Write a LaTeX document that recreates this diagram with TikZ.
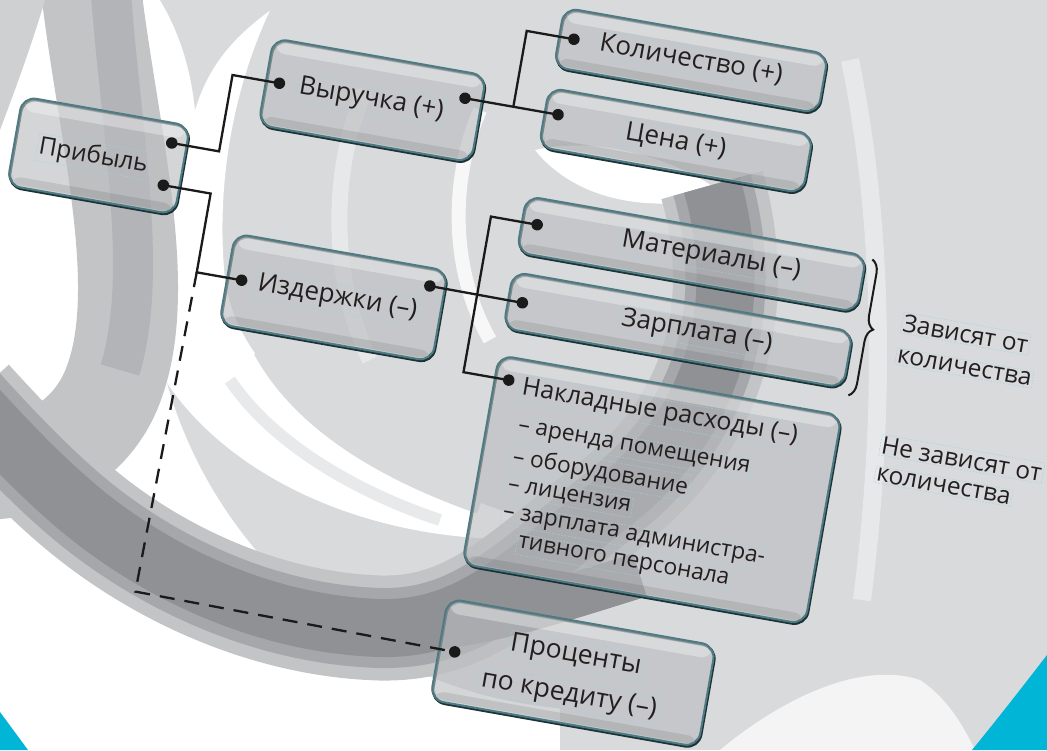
\documentclass[tikz,border=0pt]{standalone}
\usepackage{fontspec}
\setmainfont{Open Sans}
\usetikzlibrary{shadows,decorations.pathreplacing}
\definecolor{bgA}{HTML}{D9DADC}
\definecolor{bgB}{HTML}{C3C4C6}
\definecolor{bgC}{HTML}{A6A7AA}
\definecolor{bgD}{HTML}{909194}
\definecolor{bgE}{HTML}{E7E8E9}
\definecolor{cyanc}{HTML}{00B5D6}
\definecolor{edgeT}{HTML}{4E7B83}
\definecolor{edgeD}{HTML}{1C3236}
\definecolor{boxf}{HTML}{BBBCBF}
\definecolor{ink}{HTML}{231F20}
\definecolor{guide}{HTML}{9AD6E2}
\definecolor{wirec}{HTML}{1A1A1A}
\begin{document}
\begin{tikzpicture}[x=1pt,y=-1pt,
  gbox/.style={rectangle, rounded corners=14pt, draw=edgeT, line width=2pt,
    fill=boxf, fill opacity=0.62, text opacity=1, inner sep=0pt,
    general shadow={shadow xshift=0.8pt, shadow yshift=-1.6pt, draw=edgeD, line width=2.6pt, fill=none}},
  gloss/.style={fill=white, fill opacity=0.32, rounded corners=9pt},
  shade/.style={fill=black, fill opacity=0.09, rounded corners=9pt},
  lbl/.style={font=\fontsize{24.5}{28}\selectfont, text=ink, inner sep=1.5pt,
    draw=guide, line width=0.45pt, dash pattern=on 1.6pt off 1.6pt},
  lmid/.style={lbl, font=\fontsize{26}{30}\selectfont},
  ltit/.style={lbl, font=\fontsize{25}{29}\selectfont},
  lsm/.style={lbl, font=\fontsize{22.8}{27}\selectfont},
  lbig/.style={lbl, font=\fontsize{26.5}{30}\selectfont},
  dot/.style={circle, fill=wirec, inner sep=0pt, minimum size=11.5pt},
  wire/.style={draw=wirec, line width=2.3pt},
  dashwire/.style={wire, dash pattern=on 15pt off 10pt},
  brc/.style={draw=wirec, line width=2pt, decorate, decoration={brace, amplitude=13pt}}
]
\useasboundingbox (0,0) rectangle (1047,750);
% ---------------- background ----------------
\begin{scope}
\clip (0,0) rectangle (1047,750);
\fill[white] (0,0) rectangle (1047,750);
\fill[bgA] (600,260) circle[radius=450];
\fill[bgA] (560,0) rectangle (1047,750);
\fill[white!70!bgA] (720,750) .. controls (780,700) and (860,660) .. (920,680) .. controls (950,700) and (965,730) .. (975,750) -- cycle;
% white inner swirl
\fill[white] (150,0) -- (275,0) .. controls (235,80) and (215,180) .. (225,280) .. controls (240,390) and (380,480) .. (580,535) .. controls (380,560) and (190,470) .. (140,330) -- cycle;
\draw[bgA, line width=18] (262,350) .. controls (300,420) and (380,470) .. (480,505);
\draw[bgA!60!white, line width=12] (230,380) .. controls (270,440) and (350,490) .. (440,520);
% white arcs in grey
\draw[bgE, line width=16] (365,90) .. controls (330,170) and (330,280) .. (370,360);
\draw[white, line width=14, opacity=.8] (480,110) .. controls (450,180) and (450,270) .. (490,340);
\draw[bgE, line width=18] (850,60) .. controls (885,230) and (885,420) .. (862,600);
\fill[white] (535,150) .. controls (600,135) and (680,160) .. (725,195) .. controls (650,215) and (575,200) .. cycle;
% top-left grey band
\draw[bgB, line width=100] (90,-20) .. controls (105,120) and (150,280) .. (115,380) .. controls (95,440) and (40,470) .. (-20,470);
\draw[bgC!55!bgB, line width=40] (110,-20) .. controls (120,130) and (150,270) .. (120,370);
\fill[bgB!80!white] (0,0) -- (45,0) .. controls (30,50) and (15,90) .. (0,130) -- cycle;
\fill[bgA] (160,0) -- (285,0) .. controls (240,30) and (210,60) .. (195,110) .. controls (190,60) and (175,25) .. cycle;
% dark band
\draw[bgB, line width=105, postaction={draw=bgC, line width=80}, postaction={draw=bgD, line width=58}]
  (712,185) .. controls (745,300) and (720,420) .. (610,505) .. controls (520,575) and (470,630) .. (380,628)
  .. controls (280,625) and (180,585) .. (100,525) .. controls (60,495) and (20,455) .. (-30,400);
\draw[bgD, line width=45] (430,628) .. controls (500,620) and (560,600) .. (640,575);
% cyan corners
\fill[cyanc] (1047,655) .. controls (1020,690) and (995,722) .. (972,750) -- (1047,750) -- cycle;
\fill[cyanc] (0,712) -- (28,750) -- (0,750) -- cycle;
\end{scope}
% ---------------- diagram (rotated frame) ----------------
\begin{scope}[rotate=-10, transform shape]
\node[gbox, minimum width=170pt, minimum height=90pt] (bPrib) at (124,136) {};
\node[gbox, minimum width=216pt, minimum height=88pt] (bVyr) at (384,34) {};
\node[gbox, minimum width=216pt, minimum height=92pt] (bIzd) at (380,235) {};
\node[gbox, minimum width=268pt, minimum height=60pt] (bKol) at (691,-60.5) {};
\node[gbox, minimum width=268pt, minimum height=60pt] (bCena) at (690,21) {};
\node[gbox, minimum width=345pt, minimum height=57pt] (bMat) at (725,130) {};
\node[gbox, minimum width=345pt, minimum height=57pt] (bZarp) at (725,207) {};
\node[gbox, minimum width=348pt, minimum height=212pt] (bNakl) at (727,369) {};
\node[gbox, minimum width=272pt, minimum height=103pt] (bProc) at (681,563) {};
% glossy top band and darker bottom inside each box
\foreach \n in {bPrib,bVyr,bIzd,bKol,bCena,bMat,bZarp,bNakl,bProc}{
  \fill[gloss] ([shift={(5,3)}]\n.north west) -- ([shift={(-5,3)}]\n.north east)
    -- ([shift={(-5,15)}]\n.north east) -- ([shift={(5,15)}]\n.north west) -- cycle;
  \fill[shade] ([shift={(5,-11)}]\n.south west) -- ([shift={(-4,-11)}]\n.south east)
    -- ([shift={(-4,-3)}]\n.south east) -- ([shift={(5,-3)}]\n.south west) -- cycle;
}
% elbows
\coordinate (eA) at (242,111);
\coordinate (eB) at (242,33.5);
\coordinate (eC) at (241,154);
\coordinate (eD) at (241,234);
\coordinate (eE) at (236,559);
\coordinate (eF) at (524,16);
\coordinate (eG) at (524,-61);
\coordinate (eH) at (521,128);
\coordinate (eI) at (521,286);
% dots
\node[dot] (dP1) at (194,111) {};
\node[dot] (dP2) at (193,154) {};
\node[dot] (dV1) at (289.6,33.5) {};
\node[dot] (dV2) at (475,16) {};
\node[dot] (dI1) at (286.6,234) {};
\node[dot] (dI2) at (473,207) {};
\node[dot] (dK) at (572,-61) {};
\node[dot] (dC) at (569.5,16) {};
\node[dot] (dM) at (568,128) {};
\node[dot] (dZ) at (567,207.5) {};
\node[dot] (dN) at (567,286) {};
\node[dot] (dPr) at (561,563) {};
% connectors
\draw[wire] (dP1.center) -- (eA) -- (eB) -- (dV1.center);
\draw[wire] (dP2.center) -- (eC) -- (eD) -- (dI1.center);
\draw[dashwire] (eD) -- (eE) -- (dPr.center);
\draw[wire] (dV2.center) -- (dC.center);
\draw[wire] (eF) -- (eG) -- (dK.center);
\draw[wire] (dI2.center) -- (dZ.center);
\draw[wire] (dM.center) -- (eH) -- (eI) -- (dN.center);
% brace
\coordinate (brT) at (904,104);
\coordinate (brB) at (904,242);
\draw[brc] (brT) -- (brB);
% texts
\node[lbl] (tPrib) at (119,138) {Прибыль};
\node[lmid] (tVyr) at (383,34) {Выручка (+)};
\node[lmid] (tIzd) at (384,235) {Издержки (–)};
\node[lmid] (tKol) at (691,-61) {Количество (+)};
\node[lmid] (tCena) at (690,22) {Цена (+)};
\node[lmid] (tMat) at (745,129) {Материалы (–)};
\node[lmid] (tZarp) at (744,206) {Зарплата (–)};
\node[ltit, anchor=west] (tNakl) at (580,292) {Накладные расходы (–)};
\node[lsm, anchor=west] (tL1) at (583,332) {– аренда помещения};
\node[lsm, anchor=west] (tL2) at (583,361.5) {– оборудование};
\node[lsm, anchor=west] (tL3) at (583,390.5) {– лицензия};
\node[lsm, anchor=west] (tL4) at (583,419) {– зарплата администра-};
\node[lsm, anchor=west] (tL5) at (603,446) {тивного персонала};
\node[lbig] (tProc1) at (681,546) {Проценты};
\node[lbig] (tProc2) at (681,586) {по кредиту (–)};
\node[lbl, anchor=west] (tZav1) at (944,161) {Зависят от};
\node[lbl, anchor=west] (tZav2) at (944,195) {количества};
\node[lbl, anchor=west] (tNe1) at (944,285) {Не зависят от};
\node[lbl, anchor=west] (tNe2) at (944,315) {количества};
\end{scope}
\end{tikzpicture}
\end{document}
